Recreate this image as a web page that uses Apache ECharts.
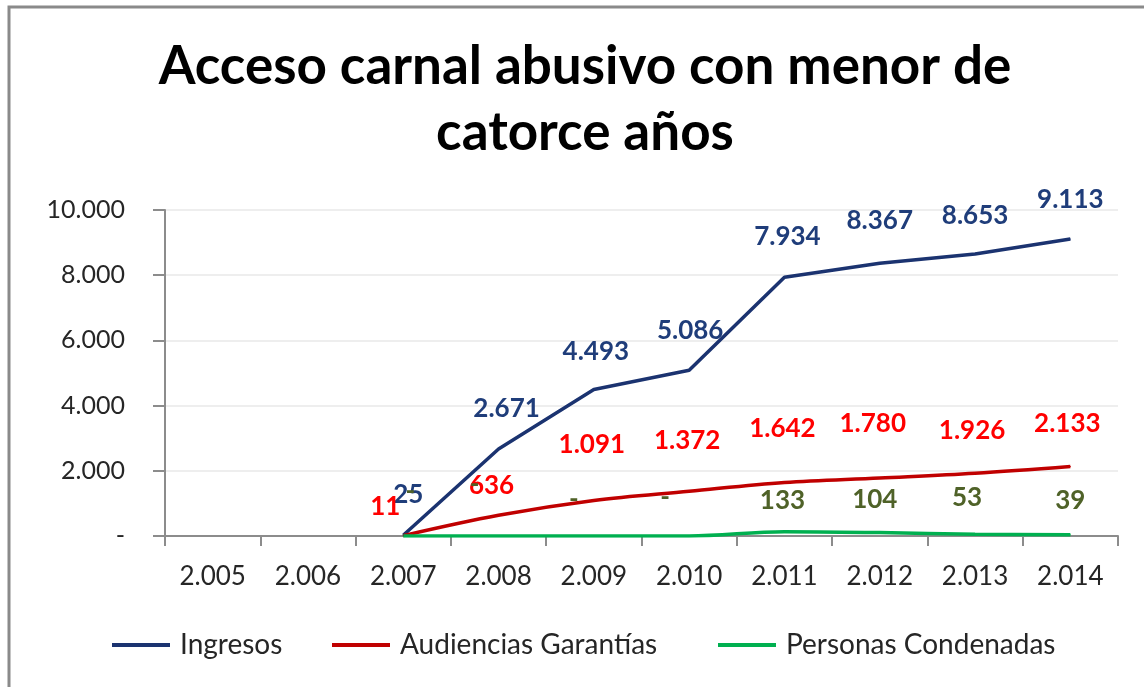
<!DOCTYPE html>
<html>
<head>
<meta charset="utf-8">
<script src="https://cdn.jsdelivr.net/npm/echarts@6/dist/echarts.min.js"></script>
<style>
  html, body { margin: 0; padding: 0; background: #fff; }
  #chart { width: 1144px; height: 687px; }
</style>
</head>
<body>
<div id="chart"></div>
<script>
    // datos
    var years = ['2.005', '2.006', '2.007', '2.008', '2.009', '2.010', '2.011', '2.012', '2.013', '2.014'];
    var ingresos = [null, null, 25, 2671, 4493, 5086, 7934, 8367, 8653, 9113];
    var audiencias = [null, null, 11, 636, 1091, 1372, 1642, 1780, 1926, 2133];
    var condenadas = [null, null, 0, 0, 0, 0, 133, 104, 53, 39];
    var seriesNames = ['Ingresos', 'Audiencias Garantías', 'Personas Condenadas'];
    var yTicks = { min: 0, max: 10000, interval: 2000 };

    // desplazamiento de etiquetas [dx, subida] como en el original
    var nudgeIng = [[0, 0], [0, 0], [5, 40], [8, 40], [2, 37], [1, 39], [3, 40], [0, 42], [0, 38], [0, 39]];
    var nudgeAud = [[0, 0], [0, 0], [-18, 29], [-7, 29], [-2, 55], [-2, 50], [-2, 53], [-7, 54], [-3, 42], [-3, 42]];
    var nudgeCon = [[0, 0], [0, 0], [7, 44], [-24, 51], [-20, 36], [-24, 38], [-2, 31], [-5, 33], [-8, 36], [0, 34]];

    function fmt(v) {
        if (v === 0) return '-';
        return String(v).replace(/\B(?=(\d{3})+(?!\d))/g, '.');
    }

    function build(values, nudges) {
        return values.map(function (v, i) {
            if (v == null) return '-';
            return { value: v, label: { offset: [nudges[i][0], -nudges[i][1]] } };
        });
    }

    var FONT = 'Lato';

    var chart = echarts.init(document.getElementById('chart'));

    function lineSeries(name, values, nudges, color, labelColor, smooth) {
        return {
            name: name,
            type: 'line',
            data: build(values, nudges),
            smooth: smooth,
            symbol: 'circle',
            symbolSize: 1,
            itemStyle: { color: color },
            lineStyle: { color: color, width: 3.5 },
            label: {
                show: true,
                position: 'top',
                distance: 0,
                verticalAlign: 'middle',
                color: labelColor,
                fontFamily: FONT,
                fontWeight: 'bold',
                fontSize: 26,
                formatter: function (p) { return fmt(p.value); }
            },
            emphasis: { disabled: true },
            animation: false
        };
    }

    // una leyenda por serie para colocarlas como en el original
    function legendAt(left, name) {
        return {
            left: left,
            top: 630,
            padding: 0,
            itemWidth: 58,
            itemHeight: 4,
            icon: 'rect',
            textStyle: { fontFamily: FONT, fontSize: 28, lineHeight: 30, color: '#262626', padding: [0, 0, 0, 5] },
            data: [name]
        };
    }

    var option = {
        backgroundColor: '#fff',
        animation: false,
        title: {
            text: 'Acceso carnal abusivo con menor de\ncatorce años',
            left: 580,
            textAlign: 'center',
            top: 29,
            textStyle: {
                fontFamily: FONT,
                fontWeight: 'bold',
                fontSize: 53,
                lineHeight: 66,
                color: '#000'
            }
        },
        graphic: [{
            type: 'rect',
            shape: { x: 9, y: 7, width: 1300, height: 900 },
            style: { fill: 'none', stroke: '#8a8a8a', lineWidth: 3 },
            silent: true
        }],
        legend: [
            legendAt(112, seriesNames[0]),
            legendAt(332, seriesNames[1]),
            legendAt(718, seriesNames[2])
        ],
        grid: { left: 165, right: 26, top: 210, bottom: 151 },
        xAxis: {
            type: 'category',
            data: years,
            boundaryGap: true,
            axisLine: { lineStyle: { color: '#8c8c8c', width: 2 } },
            axisTick: { show: true, length: 10, alignWithLabel: false, lineStyle: { color: '#8c8c8c', width: 2 } },
            axisLabel: { margin: 28, fontFamily: FONT, fontSize: 26, color: '#262626' }
        },
        yAxis: {
            type: 'value',
            min: yTicks.min,
            max: yTicks.max,
            interval: yTicks.interval,
            axisLine: { show: true, lineStyle: { color: '#8c8c8c', width: 2 } },
            axisTick: { show: true, length: 12, lineStyle: { color: '#8c8c8c', width: 2 } },
            axisLabel: { margin: 40, fontFamily: FONT, fontSize: 25, color: '#262626', formatter: fmt },
            splitLine: { lineStyle: { color: '#e9e9e9', width: 1.5 } }
        },
        series: [
            lineSeries(seriesNames[0], ingresos, nudgeIng, '#1b3370', '#1f3d7a', false),
            lineSeries(seriesNames[1], audiencias, nudgeAud, '#c00000', '#ff0000', 0.35),
            lineSeries(seriesNames[2], condenadas, nudgeCon, '#00b050', '#4f6228', 0.35)
        ]
    };

    chart.setOption(option);
</script>
</body>
</html>
